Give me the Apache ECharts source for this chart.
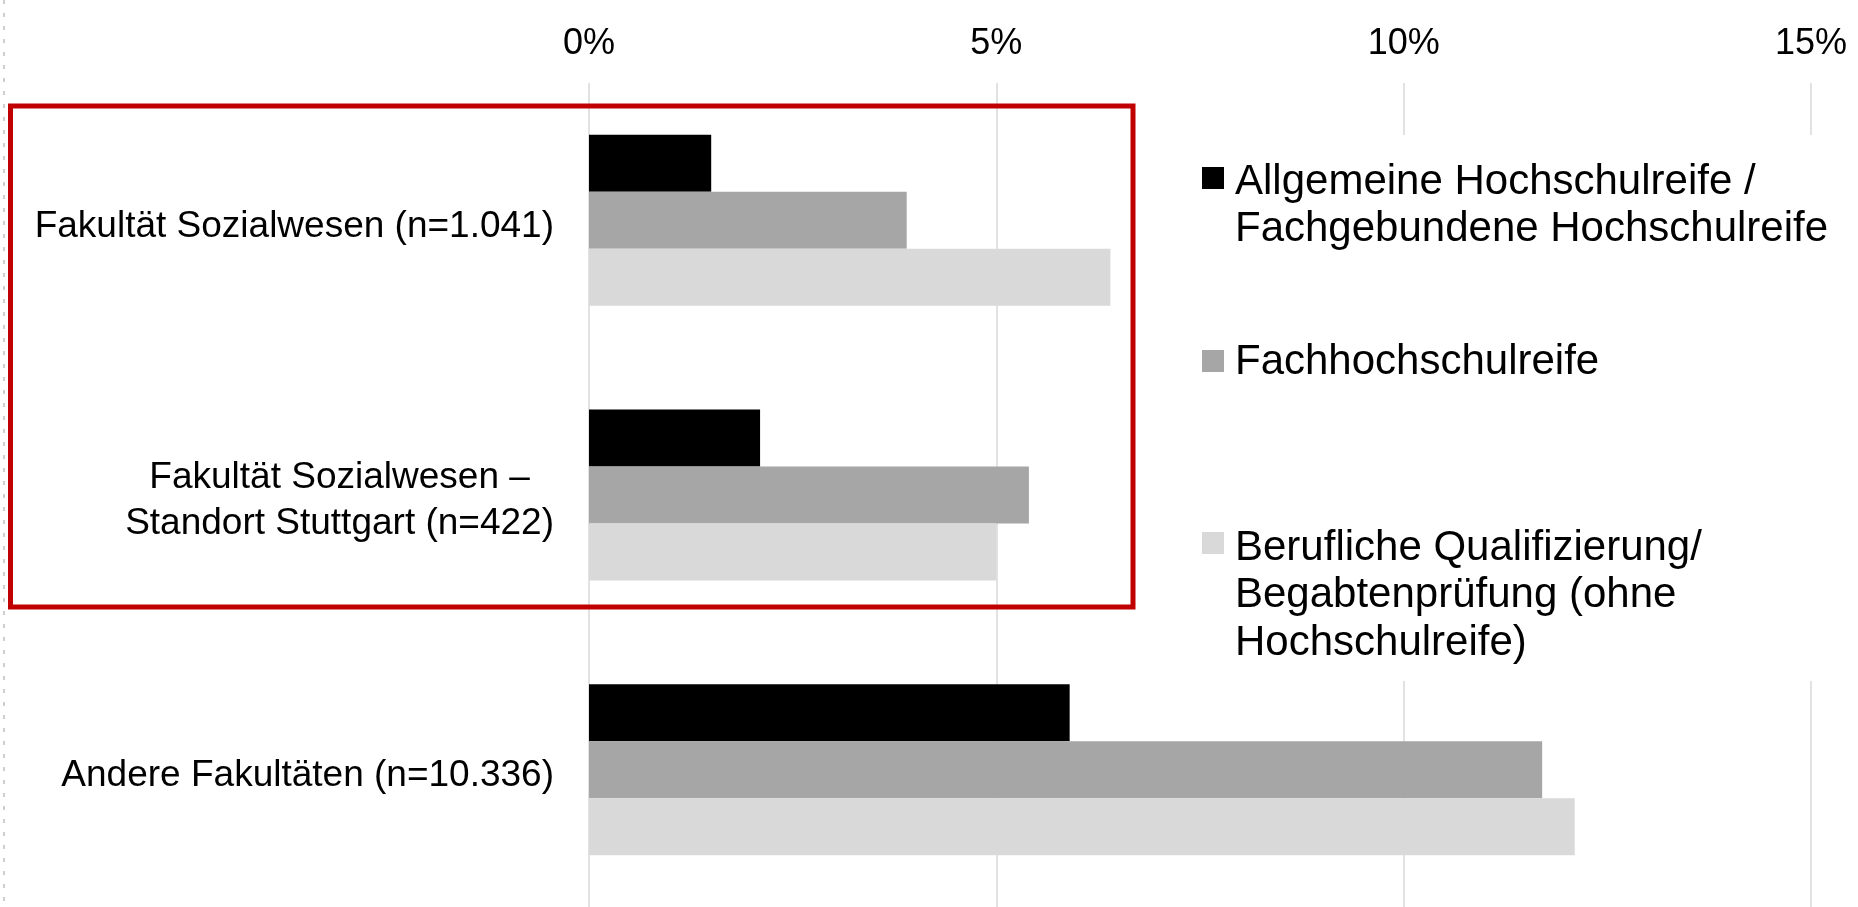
<!DOCTYPE html>
<html>
<head>
<meta charset="utf-8">
<script src="https://cdn.jsdelivr.net/npm/echarts@6/dist/echarts.min.js"></script>
<style>
  html, body { margin: 0; padding: 0; background: #fff; }
  #chart { width: 1858px; height: 907px; }
</style>
</head>
<body>
<div id="chart"></div>
<script>
// Faculties (top to bottom)
const categories = [
  'Fakultät Sozialwesen (n=1.041)',
  'Fakultät Sozialwesen –\nStandort Stuttgart (n=422)',
  'Andere Fakultäten (n=10.336)'
];

// Share in percent per type of university entrance qualification
const seriesNames = [
  'Allgemeine Hochschulreife /\nFachgebundene Hochschulreife',
  'Fachhochschulreife',
  'Berufliche Qualifizierung/\nBegabtenprüfung (ohne\nHochschulreife)'
];
const allgemeineHSR = [1.5, 2.1, 5.9];
const fachhochschulreife = [3.9, 5.4, 11.7];
const beruflicheQuali = [6.4, 5.0, 12.1];

const tickValues = [0, 5, 10, 15];
const tickLabels = ['0%', '5%', '10%', '15%'];

const colors = ['#000000', '#A6A6A6', '#D9D9D9'];
const FONT = '"Liberation Sans", Arial, sans-serif';

const chart = echarts.init(document.getElementById('chart'), null, { renderer: 'canvas' });

const seriesData = [allgemeineHSR, fachhochschulreife, beruflicheQuali];

// Legend drawn as squares with wrapped text lines, icon aligned to the first line
const legendIconY = [178, 361, 543];
const legendTextY = [182, 362, 548];
const legendLineH = 47.5;
const legendGraphics = [];
seriesNames.forEach((name, i) => {
  legendGraphics.push({
    type: 'rect', z: 110,
    shape: { x: 1202, y: legendIconY[i] - 11, width: 22, height: 22 },
    style: { fill: colors[i] }
  });
  name.split('\n').forEach((line, j) => {
    legendGraphics.push({
      type: 'text', z: 110,
      x: 1235, y: legendTextY[i] + j * legendLineH,
      style: {
        text: line, fill: '#000', font: '42px ' + FONT,
        textAlign: 'left', textVerticalAlign: 'middle'
      }
    });
  });
});

const option = {
  backgroundColor: '#ffffff',
  animation: false,
  grid: { left: 589, right: 47, top: 83, bottom: 0, containLabel: false },
  xAxis: {
    type: 'value',
    position: 'top',
    min: 0, max: 15, interval: 5,
    axisLine: { show: false },
    axisTick: { show: false },
    splitLine: { show: true, lineStyle: { color: '#D9D9D9', width: 1.5 } },
    axisLabel: {
      color: '#000', fontSize: 36, fontFamily: FONT, margin: 21,
      formatter: v => tickLabels[tickValues.indexOf(v)] ?? ''
    }
  },
  yAxis: {
    type: 'category',
    inverse: true,
    data: categories,
    axisLine: { show: false },
    axisTick: { show: false },
    splitLine: { show: false },
    axisLabel: {
      margin: 35,
      color: '#000',
      fontSize: 37, fontFamily: FONT,
      lineHeight: 46,
      padding: [12, 0, 0, 0],
      formatter: v => v.split('\n').map(l => '{c|' + l + '}').join('\n'),
      rich: { c: { align: 'center', fontSize: 37, fontFamily: FONT, color: '#000', lineHeight: 46 } }
    }
  },
  series: seriesData.map((d, i) => ({
    name: seriesNames[i],
    type: 'bar',
    data: d,
    barWidth: 57,
    barGap: '0%',
    itemStyle: { color: colors[i] },
    silent: true
  })),
  graphic: [
    // faint dashed border along the left edge
    {
      type: 'line', z: 100,
      shape: { x1: 4, y1: 0, x2: 4, y2: 907 },
      style: { stroke: '#BFBFBF', lineWidth: 1.5, lineDash: [4, 9] }
    },
    // white panel behind the legend
    {
      type: 'rect', z: 105,
      shape: { x: 1185, y: 135, width: 673, height: 546 },
      style: { fill: '#ffffff' }
    },
    ...legendGraphics,
    // red highlight frame around the Sozialwesen rows
    {
      type: 'rect', z: 120,
      shape: { x: 10.5, y: 106, width: 1122.5, height: 501 },
      style: { fill: 'none', stroke: '#C00000', lineWidth: 5 }
    }
  ]
};

chart.setOption(option);
</script>
</body>
</html>
